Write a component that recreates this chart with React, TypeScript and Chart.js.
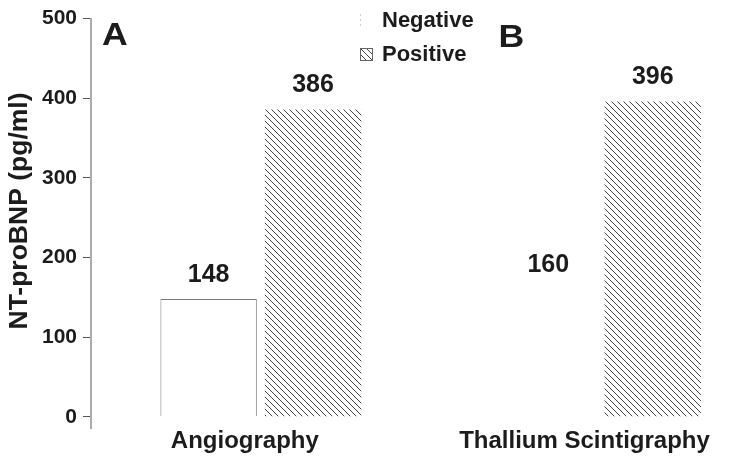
import React, { useEffect, useRef } from "react";
import { Chart, registerables } from "chart.js";

Chart.register(...registerables);

// ---- data ----
const categories = ["Angiography", "Thallium Scintigraphy"];
const seriesNames = ["Negative", "Positive"];
const negativeValues = [148, 160];
const positiveValues = [386, 396];
const panelLetters = ["A", "B"];
const yTickValues = [0, 100, 200, 300, 400, 500];
const yTitle = "NT-proBNP (pg/ml)";

const FONT = "'Liberation Sans', Arial, Helvetica, sans-serif";
const INK = "#1c1c1c";

function makeHatch(ctx: CanvasRenderingContext2D): CanvasPattern | string {
  const c = document.createElement("canvas");
  c.width = 6;
  c.height = 6;
  const g = c.getContext("2d");
  if (!g) return "#888";
  g.fillStyle = "#ffffff";
  g.fillRect(0, 0, 6, 6);
  g.strokeStyle = "#3a3a3a";
  g.lineWidth = 0.95;
  g.beginPath();
  g.moveTo(-1, -1);
  g.lineTo(7, 7);
  g.moveTo(-1, 5);
  g.lineTo(1, 7);
  g.moveTo(5, -1);
  g.lineTo(7, 1);
  g.stroke();
  return ctx.createPattern(c, "repeat") || "#888";
}

export default function App() {
  const ref = useRef<HTMLCanvasElement | null>(null);

  useEffect(() => {
    const canvas = ref.current;
    if (!canvas) return;
    const ctx0 = canvas.getContext("2d")!;
    const hatch = makeHatch(ctx0);

    const overlay = {
      id: "overlay",
      afterDatasetsDraw(chart: any) {
        const ctx = chart.ctx as CanvasRenderingContext2D;
        const xs = chart.scales.x;
        const area = chart.chartArea;
        ctx.save();
        ctx.fillStyle = INK;
        // y axis title
        ctx.save();
        ctx.translate(20, 211);
        ctx.rotate(-Math.PI / 2);
        ctx.font = `bold 25px ${FONT}`;
        ctx.textAlign = "center";
        ctx.textBaseline = "middle";
        ctx.scale(1.06, 1);
        ctx.fillText(yTitle, 0, 0);
        ctx.restore();
        // value labels
        ctx.font = `bold 25px ${FONT}`;
        ctx.textAlign = "center";
        ctx.textBaseline = "alphabetic";
        chart.data.datasets.forEach((ds: any, di: number) => {
          const meta = chart.getDatasetMeta(di);
          meta.data.forEach((el: any, i: number) => {
            const v = ds.data[i].y;
            ctx.fillText(String(v), el.x, el.y - 17);
          });
        });
        // category labels
        ctx.font = `bold 24px ${FONT}`;
        ctx.textBaseline = "middle";
        categories.forEach((c, i) => {
          ctx.fillText(c, xs.getPixelForValue(i) - 16, 441);
        });
        // panel letters
        ctx.font = `bold 31px ${FONT}`;
        ctx.textAlign = "left";
        ctx.textBaseline = "alphabetic";
        const drawLetter = (t: string, x: number, y: number) => {
          ctx.save();
          ctx.translate(x, y);
          ctx.scale(1.15, 1);
          ctx.fillText(t, 0, 0);
          ctx.restore();
        };
        drawLetter(panelLetters[0], area.left + 11, 45);
        drawLetter(panelLetters[1], xs.getPixelForValue(0.7), 47);
        // legend
        const lx = 360;
        const rows = [20, 54];
        ctx.font = `bold 22px ${FONT}`;
        ctx.textBaseline = "middle";
        seriesNames.forEach((name, i) => {
          const y = rows[i];
          if (i === 0) {
            ctx.strokeStyle = "#cfcfcf";
            ctx.lineWidth = 1;
            ctx.setLineDash([2, 3]);
            ctx.beginPath();
            ctx.moveTo(lx + 0.5, y - 6);
            ctx.lineTo(lx + 0.5, y + 7);
            ctx.stroke();
            ctx.setLineDash([]);
          } else {
            ctx.fillStyle = hatch as any;
            ctx.fillRect(lx, y - 6, 13, 13);
            ctx.strokeStyle = "#666";
            ctx.lineWidth = 1;
            ctx.strokeRect(lx + 0.5, y - 5.5, 12, 12);
          }
          ctx.fillStyle = INK;
          ctx.fillText(name, lx + 22, y + 1);
        });
        ctx.restore();
      },
    };

    const chart = new Chart(canvas, {
      type: "bar",
      data: {
        datasets: [
          {
            label: seriesNames[0],
            data: categories.map((_, i) => ({ x: i, y: negativeValues[i] })),
            backgroundColor: "#ffffff",
            borderColor: ["#7a7a7a", "rgba(0,0,0,0)"],
            borderWidth: 1,
            borderSkipped: "bottom",
          },
          {
            label: seriesNames[1],
            data: categories.map((_, i) => ({ x: i, y: positiveValues[i] })),
            backgroundColor: hatch as any,
            borderWidth: 0,
          },
        ],
      } as any,
      options: {
        animation: false,
        responsive: false,
        maintainAspectRatio: false,
        devicePixelRatio: 1,
        layout: { padding: { top: 17, right: 0, bottom: 30, left: 0 } },
        datasets: { bar: { barPercentage: 0.923, categoryPercentage: 0.615 } },
        plugins: { legend: { display: false }, tooltip: { enabled: false } },
        scales: {
          x: {
            type: "linear",
            min: -0.5,
            max: 1.39,
            offset: false,
            grid: { offset: false },
            display: false,
            afterBuildTicks: (s: any) => {
              s.ticks = categories.map((_, i) => ({ value: i }));
            },
          },
          y: {
            min: -14,
            max: 500,
            afterBuildTicks: (s: any) => {
              s.ticks = yTickValues.map((v) => ({ value: v }));
            },
            afterFit: (s: any) => {
              s.width = 91;
            },
            ticks: {
              color: INK,
              padding: 6,
              font: { family: FONT, weight: "bold", size: 21 },
            },
            grid: {
              drawOnChartArea: false,
              drawTicks: true,
              tickLength: 8,
              color: "#555",
            },
            border: { display: true, color: "#ababab", width: 2 },
            title: { display: false, text: yTitle },
          },
        },
      } as any,
      plugins: [overlay],
    });
    return () => chart.destroy();
  }, []);

  return (
    <div style={{ position: "absolute", left: 0, top: 0, width: 733, height: 458, background: "#fff" }}>
      <canvas ref={ref} width={733} height={458} style={{ display: "block", width: 733, height: 458 }} />
    </div>
  );
}
